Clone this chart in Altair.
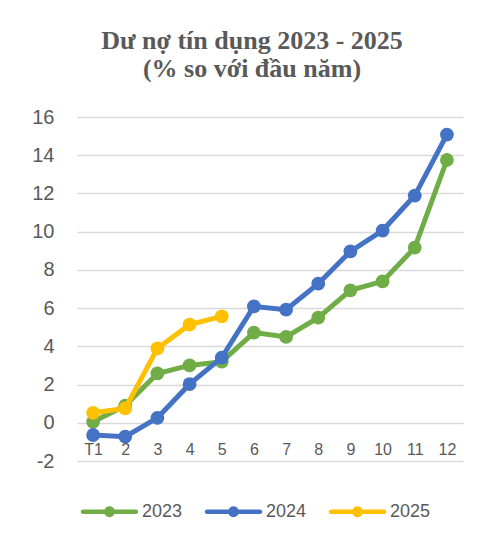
import altair as alt
import pandas as pd

months = ["T1", "2", "3", "4", "5", "6", "7", "8", "9", "10", "11", "12"]
years = ["2023", "2024", "2025"]
v2023 = [0.05, 0.90, 2.58, 3.00, 3.20, 4.72, 4.49, 5.50, 6.93, 7.40, 9.16, 13.75]
v2024 = [-0.64, -0.73, 0.26, 2.02, 3.41, 6.09, 5.92, 7.28, 8.97, 10.06, 11.89, 15.08]
v2025 = [0.52, 0.75, 3.89, 5.14, 5.57]
colors = ["#70AD47", "#4472C4", "#FFC000"]
y_ticks = [-2, 0, 2, 4, 6, 8, 10, 12, 14, 16]

rows = []
for yr, vals in zip(years, [v2023, v2024, v2025]):
    for m, v in zip(months, vals):
        rows.append({"Tháng": m, "Năm": yr, "Giá trị": v})
df = pd.DataFrame(rows)

TXT = "#595959"
FONT = "Liberation Sans"

x_enc = alt.X(
    "Tháng:O",
    sort=months,
    scale=alt.Scale(type="point", padding=0.5),
    axis=alt.Axis(
        title=None, labelAngle=0, domain=False, ticks=False, grid=False,
        offset=-38, labelPadding=18, labelFontSize=16, labelColor=TXT, labelFont=FONT,
    ),
)
y_enc = alt.Y(
    "Giá trị:Q",
    scale=alt.Scale(domain=[-2, 16], nice=False, zero=False),
    axis=alt.Axis(
        title=None, values=y_ticks, domain=False, ticks=False,
        gridColor="#D9D9D9", gridWidth=1.3, labelPadding=23,
        labelFontSize=20, labelColor=TXT, labelFont=FONT,
        labelExpr="'' + datum.value",
    ),
)
color_scale = alt.Scale(domain=years, range=colors)

legend_path = (
    "M-0.93,-0.079 L0.93,-0.079 A0.079,0.079 0 0,1 0.93,0.079 "
    "L-0.93,0.079 A0.079,0.079 0 0,1 -0.93,-0.079 Z "
    "M-0.19,0 A0.19,0.19 0 1,1 0.19,0 A0.19,0.19 0 1,1 -0.19,0 Z"
)
legend = alt.Legend(
    title=None, orient="none", direction="horizontal",
    legendX=4, legendY=366, symbolType=legend_path,
    symbolSize=3249, symbolStrokeWidth=0, symbolOpacity=1,
    labelFontSize=18, labelColor=TXT, labelFont=FONT,
    labelOffset=4, columnPadding=21, padding=0,
)

base = alt.Chart(df)
layers = []
for yr, col in zip(years, colors):
    sub = base.transform_filter(alt.datum["Năm"] == yr)
    layers.append(
        sub.mark_line(strokeWidth=5, color=col).encode(x=x_enc, y=y_enc)
    )
    layers.append(
        sub.mark_point(filled=True, size=190, opacity=1).encode(
            x=x_enc, y=y_enc,
            color=alt.Color("Năm:N", scale=color_scale, legend=legend),
        )
    )

chart = alt.layer(*layers).properties(
    width=386,
    height=344,
    title=alt.TitleParams(
        text=["Dư nợ tín dụng 2023 - 2025", "(% so với đầu năm)"],
        font="Liberation Serif", fontSize=26, fontWeight="bold", color=TXT,
        lineHeight=28, anchor="middle", dx=-18, offset=25,
    ),
    autosize=alt.AutoSizeParams(type="none"),
    padding={"left": 69, "top": 109, "right": 10, "bottom": 85},
).configure_view(stroke=None)

chart.save("out.html", embed_options={"renderer": "svg", "actions": False})
